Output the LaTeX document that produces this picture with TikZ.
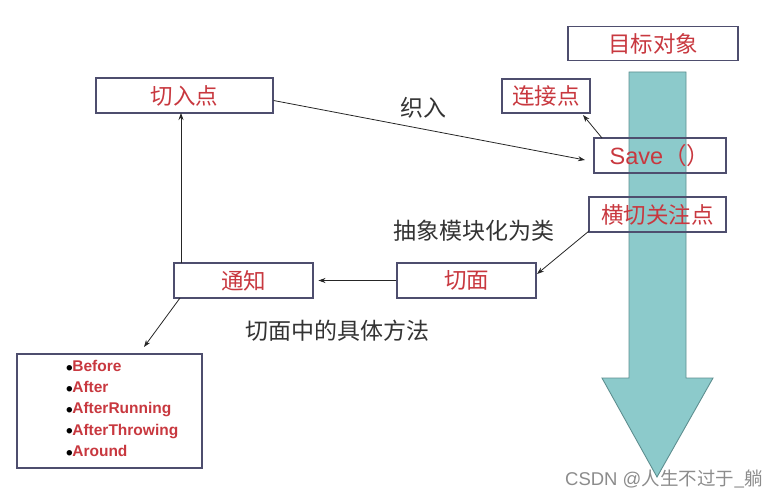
\documentclass[tikz,border=0pt]{standalone}
\usepackage{fontspec}
\setmainfont{Liberation Sans}
\newfontfamily\cjk{Noto Sans CJK SC}
\usetikzlibrary{arrows.meta}
\definecolor{boxline}{HTML}{4E4E6E}
\definecolor{redtxt}{HTML}{C8383F}
\definecolor{teal1}{HTML}{8CCACB}
\definecolor{teal2}{HTML}{5E8F90}
\definecolor{lbl}{HTML}{333333}
\tikzset{
  bx/.style={draw=boxline, line width=1.1pt, inner sep=0pt, text=redtxt, font=\cjk\fontsize{22.5}{26}\selectfont},
  lab/.style={text=lbl, font=\cjk\fontsize{23}{26}\selectfont},
  con/.style={draw=black!85, line width=0.8pt, -{Stealth[length=7pt,width=5pt]}},
  item/.style={text=redtxt, font=\bfseries\fontsize{15.5}{17}\selectfont, anchor=west, inner sep=0pt}
}
\begin{document}
\begin{tikzpicture}[x=1pt,y=-1pt]
\useasboundingbox (0,0) rectangle (778,500);
% big arrow
\draw[fill=teal1, draw=teal2, line width=0.9pt] (629,72) -- (686,72) -- (686,378) -- (713,378) -- (657,477) -- (602,378) -- (629,378) -- cycle;
% boxes
\node[bx, minimum width=170pt, minimum height=34pt] (target) at (653,43.5) {目标对象};
\node[bx, minimum width=88pt, minimum height=34pt] (join) at (546,96) {连接点};
\node[bx, minimum width=132pt, minimum height=35pt] (save) at (660,155.5) {\rmfamily\fontsize{23.5}{26}\selectfont Save\cjk（）};
\node[bx, minimum width=137pt, minimum height=35pt] (cross) at (657.5,214.5) {横切关注点};
\node[bx, minimum width=177pt, minimum height=35pt] (pointcut) at (184.5,95.5) {切入点};
\node[bx, minimum width=139pt, minimum height=35pt] (advice) at (243.5,280.5) {通知};
\node[bx, minimum width=139pt, minimum height=35pt] (aspect) at (466.5,280.5) {切面};
\node[bx, minimum width=185pt, minimum height=114pt] (list) at (109.5,411) {};
% list items
\foreach \t [count=\i] in {Before,After,AfterRunning,AfterThrowing,Around}{
  \node[item] (it\i) at (66,346+21.3*\i) {\raisebox{-2.6pt}{\textcolor{black}{\fontsize{19}{17}\selectfont\textbullet}}\kern-0.5pt\t};
}
% connectors
\coordinate (sv) at (602,138);
\coordinate (jn) at (583,115);
\draw[con] (sv) -- (jn);
\coordinate (svl) at (585,160);
\draw[con] (pointcut.east) ++(0,5) -- (svl);
\coordinate (crs) at (589,231);
\coordinate (asp) at (537,274);
\draw[con] (crs) -- (asp);
\draw[con] (aspect.west) -- ++(-78,0) coordinate (adv);
\coordinate (advtop) at (181,263);
\coordinate (pcbot) at (181,113);
\draw[con] (advtop) -- (pcbot);
\coordinate (advbl) at (180,298);
\coordinate (lst) at (144,347);
\draw[con] (advbl) -- (lst);
% labels
\node[lab] (l1) at (423,108) {织入};
\node[lab] (l2) at (474,231) {抽象模块化为类};
\node[lab] (l3) at (337,331) {切面中的具体方法};
\node[text=black!45, font=\fontsize{18.5}{20}\selectfont, inner sep=0pt] (wm) at (664,479) {CSDN @\cjk 人生不过于\_躺};
\end{tikzpicture}
\end{document}
